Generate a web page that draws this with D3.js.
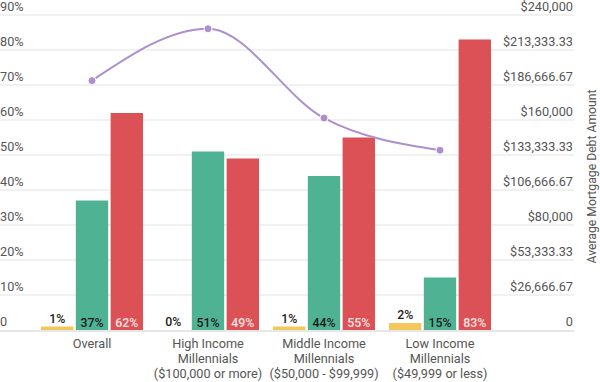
<!DOCTYPE html>
<html><head><meta charset="utf-8">
<script src="https://cdn.jsdelivr.net/npm/d3@7"></script>
<style>
body{margin:0;background:#fff;}
svg text{font-family:Roboto, "Noto Sans", sans-serif;}
</style></head>
<body><svg id="c" width="600" height="382"></svg>
<script>
const categories = ["Overall", "High Income Millennials ($100,000 or more)", "Middle Income Millennials ($50,000 - $99,999)", "Low Income Millennials ($49,999 or less)"];
const categoryLines = [["Overall"], ["High Income", "Millennials", "($100,000 or more)"], ["Middle Income", "Millennials", "($50,000 - $99,999)"], ["Low Income", "Millennials", "($49,999 or less)"]];
const seriesNames = ["Other", "Adjustable", "Fixed"];
const seriesColors = ["#f2c75c", "#4fb393", "#dc5156"];
const labelColors = ["#222", "#1a1a1a", "#fde3e3"];
const otherValues = [1, 0, 1, 2];
const adjustableValues = [37, 51, 44, 15];
const fixedValues = [62, 49, 55, 83];
const avgDebt = [190000, 229500, 161500, 137000];
const leftTicks = [0,10,20,30,40,50,60,70,80,90];
const rightTicks = [0, 26666.67, 53333.33, 80000, 106666.67, 133333.33, 160000, 186666.67, 213333.33, 240000];
const rightTickLabels = ["0", "$26,666.67", "$53,333.33", "$80,000", "$106,666.67", "$133,333.33", "$160,000", "$186,666.67", "$213,333.33", "$240,000"];

const svg = d3.select("#c");
const y = d3.scaleLinear().domain([0, 90]).range([330, 15]);
const y2 = d3.scaleLinear().domain([0, 240000]).range([330, 15]);
const x = d3.scaleBand().domain(categories).range([34, 498]).padding(0);
const xi = d3.scaleBand().domain(seriesNames).range([7, 109]).paddingInner(0.07);
const fs = 12.7;

// gridlines
svg.append("g").selectAll("line").data(leftTicks.filter(d => d > 0)).join("line")
  .attr("x1", 0).attr("x2", 574).attr("y1", d => y(d)).attr("y2", d => y(d))
  .attr("stroke", "#e3e3e3").attr("stroke-width", 1);
svg.append("line").attr("x1", 0).attr("x2", 574).attr("y1", y(0) + 1).attr("y2", y(0) + 1)
  .attr("stroke", "#e6e6e6").attr("stroke-width", 2);

// left labels
svg.append("g").selectAll("text").data(leftTicks).join("text")
  .attr("x", 0).attr("y", d => y(d) - 4)
  .attr("font-size", fs).attr("fill", "#555")
  .text(d => d === 0 ? "0" : d + "%");
// right labels
svg.append("g").selectAll("text").data(rightTicks).join("text")
  .attr("x", 573).attr("y", d => y2(d) - 4).attr("text-anchor", "end")
  .attr("font-size", fs).attr("fill", "#555")
  .text((d, i) => rightTickLabels[i]);
// right title
svg.append("text").attr("transform", "translate(596," + ((15 + 330) / 2 + 4) + ") rotate(-90)")
  .attr("text-anchor", "middle").attr("font-size", 12.2).attr("fill", "#555")
  .text("Average Mortgage Debt Amount");

// bars
const seriesData = [otherValues, adjustableValues, fixedValues];
const rows = [];
categories.forEach((c, ci) => seriesNames.forEach((s, si) => rows.push({c, s, si, v: seriesData[si][ci]})));
const bars = svg.append("g");
bars.selectAll("rect").data(rows.filter(r => r.v > 0)).join("rect")
  .attr("x", d => x(d.c) + xi(d.s)).attr("width", xi.bandwidth())
  .attr("y", d => y(d.v)).attr("height", d => y(0) - y(d.v))
  .attr("fill", d => seriesColors[d.si]);
bars.selectAll("text").data(rows).join("text")
  .attr("x", d => x(d.c) + xi(d.s) + xi.bandwidth() / 2)
  .attr("y", d => d.si === 0 ? y(d.v) - 4 : 327)
  .attr("text-anchor", "middle").attr("font-size", 12.3).attr("font-weight", 500)
  .attr("fill", d => labelColors[d.si])
  .text(d => d.v + "%");

// x labels
const xl = svg.append("g");
categories.forEach((c, ci) => {
  categoryLines[ci].forEach((t, li) => {
    xl.append("text").attr("x", x(c) + x.bandwidth() / 2).attr("y", 348 + li * 15)
      .attr("text-anchor", "middle").attr("font-size", fs).attr("fill", "#555").text(t);
  });
});

// line
const pts = categories.map((c, i) => [x(c) + x.bandwidth() / 2, y2(avgDebt[i])]);
svg.append("path").attr("d", d3.line().curve(d3.curveMonotoneX)(pts))
  .attr("fill", "none").attr("stroke", "#ad8fcd").attr("stroke-width", 2);
svg.append("g").selectAll("circle").data(pts).join("circle")
  .attr("cx", d => d[0]).attr("cy", d => d[1]).attr("r", 4)
  .attr("fill", "#ad8fcd").attr("stroke", "#fff").attr("stroke-width", 1);
</script></body></html>
